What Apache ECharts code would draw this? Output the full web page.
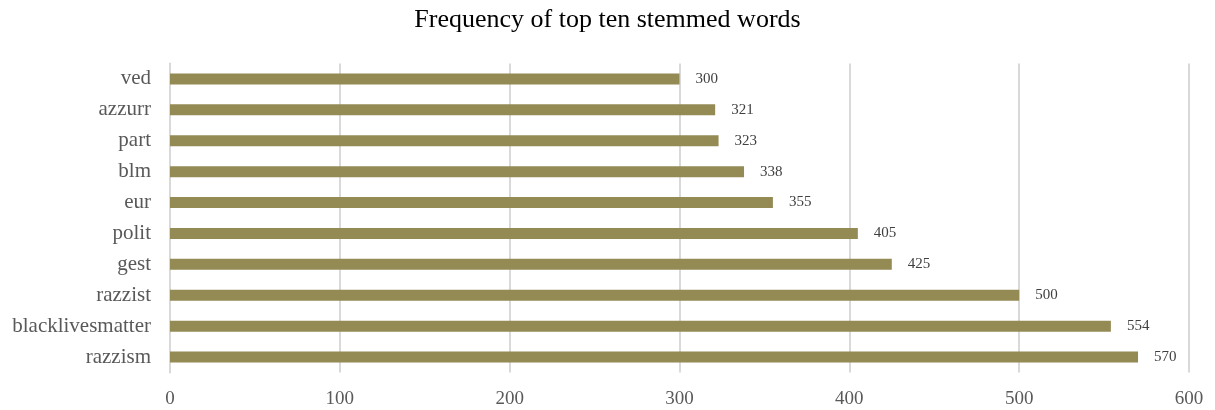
<!DOCTYPE html>
<html><head><meta charset="utf-8">
<script src="https://cdn.jsdelivr.net/npm/echarts@6/dist/echarts.min.js"></script>
<style>html,body{margin:0;padding:0;background:#fff}#c{width:1215px;height:410px}</style>
</head><body><div id="c"></div>
<script>
const categories = ["razzism","blacklivesmatter","razzist","gest","polit","eur","blm","part","azzurr","ved"];
const values = [570,554,500,425,405,355,338,323,321,300];
const xTicks = [0,100,200,300,400,500,600];
const titleText = "Frequency of top ten stemmed words";

const chart = echarts.init(document.getElementById('c'));
chart.setOption({
  animation:false,
  backgroundColor:'#fff',
  title:{text:titleText,left:'center',top:2,textStyle:{fontFamily:'Liberation Serif',fontSize:26,fontWeight:'normal',color:'#000'}},
  grid:{left:170,right:26,top:63.5,height:309},
  xAxis:{type:'value',min:xTicks[0],max:xTicks[xTicks.length-1],interval:100,
    axisLine:{show:false},axisTick:{show:false},
    splitLine:{show:true,lineStyle:{color:'#d9d9d9',width:2}},
    axisLabel:{fontFamily:'Liberation Serif',fontSize:19,color:'#595959',margin:17}},
  yAxis:{type:'category',data:categories,
    axisLine:{show:true,lineStyle:{color:'#d9d9d9',width:2}},axisTick:{show:false},
    axisLabel:{fontFamily:'Liberation Serif',fontSize:21,color:'#595959',margin:19}},
  series:[{type:'bar',data:values,barWidth:11,
    itemStyle:{color:'#948A54'},
    label:{show:true,position:'right',distance:16,fontFamily:'Liberation Serif',fontSize:15,color:'#404040'}}]
});
</script></body></html>
